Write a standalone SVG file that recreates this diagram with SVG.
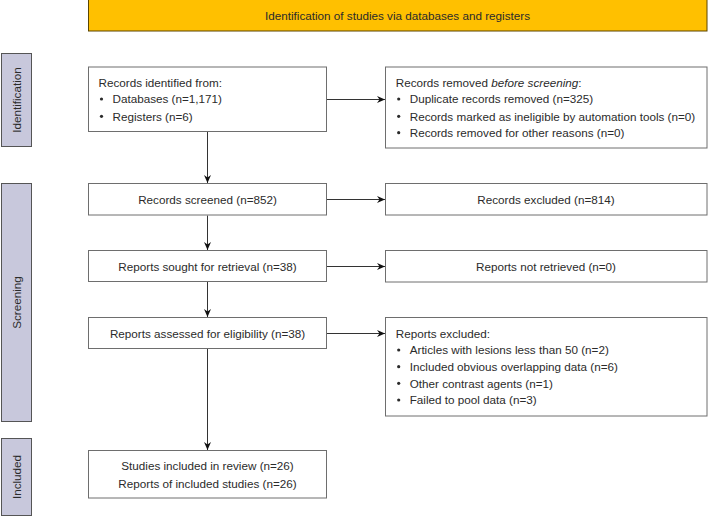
<svg xmlns="http://www.w3.org/2000/svg" width="708" height="517" viewBox="0 0 708 517">
<defs>
<style>
text{font-family:"Liberation Sans",Arial,Helvetica,sans-serif;font-size:11.7px;fill:#2b2b2b}
.box{fill:#fff;stroke:#6e6e6e;stroke-width:1}
.side{fill:#c8c8dc;stroke:#555;stroke-width:1}
.c{text-anchor:middle}
.conn{stroke:#333;stroke-width:1;fill:none;marker-end:url(#ah)}
.b{fill:#2b2b2b}
</style>
<marker id="ah" markerWidth="9" markerHeight="7" refX="8" refY="3.5" orient="auto" markerUnits="userSpaceOnUse">
<path d="M0,0 L8,3.5 L0,7 L2.5,3.5 z" fill="#111"/>
</marker>
</defs>
<rect width="708" height="517" fill="#fff"/>

<g id="banner">
<rect x="88.5" y="-1" width="618.5" height="32" fill="#ffc000" stroke="#5a4500" stroke-width="1"/>
<text class="c" x="397.5" y="20">Identification of studies via databases and registers</text>
</g>

<g id="side-identification">
<rect class="side" x="1.5" y="53.5" width="30" height="93"/>
<text class="c" transform="translate(20.5,100) rotate(-90)">Identification</text>
</g>
<g id="side-screening">
<rect class="side" x="1.5" y="183.5" width="30" height="238"/>
<text class="c" transform="translate(20.5,302.5) rotate(-90)">Screening</text>
</g>
<g id="side-included">
<rect class="side" x="1.5" y="438.5" width="30" height="77"/>
<text class="c" transform="translate(20.5,477) rotate(-90)">Included</text>
</g>

<g id="connectors">
<line class="conn" x1="207.5" y1="131.5" x2="207.5" y2="183"/>
<line class="conn" x1="207.5" y1="215.5" x2="207.5" y2="250"/>
<line class="conn" x1="207.5" y1="282" x2="207.5" y2="317"/>
<line class="conn" x1="207.5" y1="348.5" x2="207.5" y2="450"/>
<line class="conn" x1="327" y1="99.5" x2="385" y2="99.5"/>
<line class="conn" x1="327" y1="199.5" x2="385" y2="199.5"/>
<line class="conn" x1="327" y1="266.5" x2="385" y2="266.5"/>
<line class="conn" x1="327" y1="333.5" x2="385" y2="333.5"/>
</g>

<g id="records-identified">
<rect class="box" x="88.5" y="67" width="238" height="64.5"/>
<text x="98.5" y="86.5">Records identified from:</text>
<circle class="b" cx="101.5" cy="99" r="1.6"/>
<text x="112.5" y="103.2">Databases (n=1,171)</text>
<circle class="b" cx="101.5" cy="116.3" r="1.6"/>
<text x="112.5" y="120.5">Registers (n=6)</text>
</g>

<g id="records-removed">
<rect class="box" x="385.5" y="67" width="321.5" height="81"/>
<text x="395.7" y="86.5">Records removed <tspan font-style="italic">before screening</tspan>:</text>
<circle class="b" cx="398.7" cy="99" r="1.6"/>
<text x="409.7" y="103.2">Duplicate records removed (n=325)</text>
<circle class="b" cx="398.7" cy="116.3" r="1.6"/>
<text x="409.7" y="120.5">Records marked as ineligible by automation tools (n=0)</text>
<circle class="b" cx="398.7" cy="132.7" r="1.6"/>
<text x="409.7" y="136.9">Records removed for other reasons (n=0)</text>
</g>

<g id="records-screened">
<rect class="box" x="88.5" y="183.5" width="238" height="31.5"/>
<text class="c" x="207.5" y="203.5">Records screened (n=852)</text>
</g>
<g id="records-excluded">
<rect class="box" x="385.5" y="183.5" width="321.5" height="31.5"/>
<text class="c" x="546" y="203.5">Records excluded (n=814)</text>
</g>

<g id="reports-sought">
<rect class="box" x="88.5" y="250.5" width="238" height="31"/>
<text class="c" x="207.5" y="270.7">Reports sought for retrieval (n=38)</text>
</g>
<g id="reports-not-retrieved">
<rect class="box" x="385.5" y="250.5" width="321.5" height="31.5"/>
<text class="c" x="546" y="270.7">Reports not retrieved (n=0)</text>
</g>

<g id="reports-assessed">
<rect class="box" x="88.5" y="317.5" width="238" height="31"/>
<text class="c" x="207.5" y="337.5">Reports assessed for eligibility (n=38)</text>
</g>
<g id="reports-excluded">
<rect class="box" x="385.5" y="317.5" width="321.5" height="98.5"/>
<text x="395.7" y="337.5">Reports excluded:</text>
<circle class="b" cx="398.7" cy="350" r="1.6"/>
<text x="409.7" y="354.2">Articles with lesions less than 50 (n=2)</text>
<circle class="b" cx="398.7" cy="366.7" r="1.6"/>
<text x="409.7" y="370.9">Included obvious overlapping data (n=6)</text>
<circle class="b" cx="398.7" cy="383.3" r="1.6"/>
<text x="409.7" y="387.5">Other contrast agents (n=1)</text>
<circle class="b" cx="398.7" cy="400" r="1.6"/>
<text x="409.7" y="404.2">Failed to pool data (n=3)</text>
</g>

<g id="studies-included">
<rect class="box" x="88.5" y="450.5" width="238" height="47.5"/>
<text class="c" x="207.5" y="470.2">Studies included in review (n=26)</text>
<text class="c" x="207.5" y="487.5">Reports of included studies (n=26)</text>
</g>
</svg>
